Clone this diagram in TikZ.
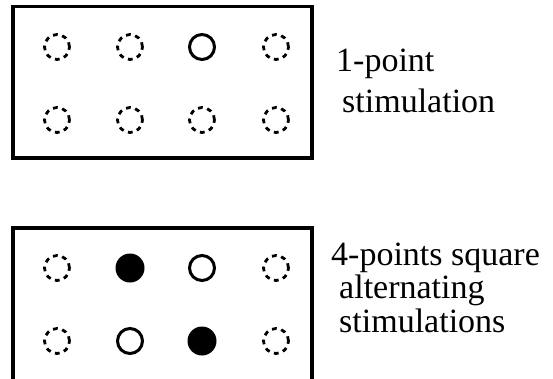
\documentclass[tikz,border=0pt]{standalone}
\usepackage{fontspec}
\setmainfont{Liberation Serif}
\begin{document}
\begin{tikzpicture}[x=1pt,y=1pt,
  panel/.style={draw=black,line width=3.6pt},
  idle/.style={circle,draw=black,line width=2.8pt,dash pattern=on 4.8pt off 4.6pt,minimum size=25pt,inner sep=0pt},
  active/.style={circle,draw=black,line width=3pt,minimum size=25pt,inner sep=0pt},
  filled/.style={circle,fill=black,minimum size=29pt,inner sep=0pt},
  lbl/.style={anchor=base west,inner sep=0pt,font=\fontsize{34}{38}\selectfont}]
\useasboundingbox (0,0) rectangle (553,378);
\begin{scope}
\clip (0,0) rectangle (553,378);
% top panel
\draw[panel] (13,371.5) rectangle (312,220);
% bottom panel
\draw[panel] (13,150) rectangle (312,-20);
\end{scope}
% top panel electrodes
\node[idle] (a1) at (57,331) {};
\node[idle] (a2) at (130,331) {};
\node[active] (a3) at (202,331) {};
\node[idle] (a4) at (276,331) {};
\node[idle] (a5) at (57,258) {};
\node[idle] (a6) at (130,258) {};
\node[idle] (a7) at (202,258) {};
\node[idle] (a8) at (276,258) {};
% bottom panel electrodes
\node[idle] (b1) at (57,110) {};
\node[filled] (b2) at (130,110) {};
\node[active] (b3) at (202,110) {};
\node[idle] (b4) at (276,110) {};
\node[idle] (b5) at (57,37) {};
\node[active] (b6) at (130,37) {};
\node[filled] (b7) at (202,37) {};
\node[idle] (b8) at (276,37) {};
% labels
\node[lbl] (t1) at (336,306) {1-point};
\node[lbl] (t2) at (342,265) {stimulation};
\node[lbl] (t3) at (331,113) {4-points square};
\node[lbl] (t4) at (339,80) {alternating};
\node[lbl] (t5) at (339,46) {stimulations};
\end{tikzpicture}
\end{document}
